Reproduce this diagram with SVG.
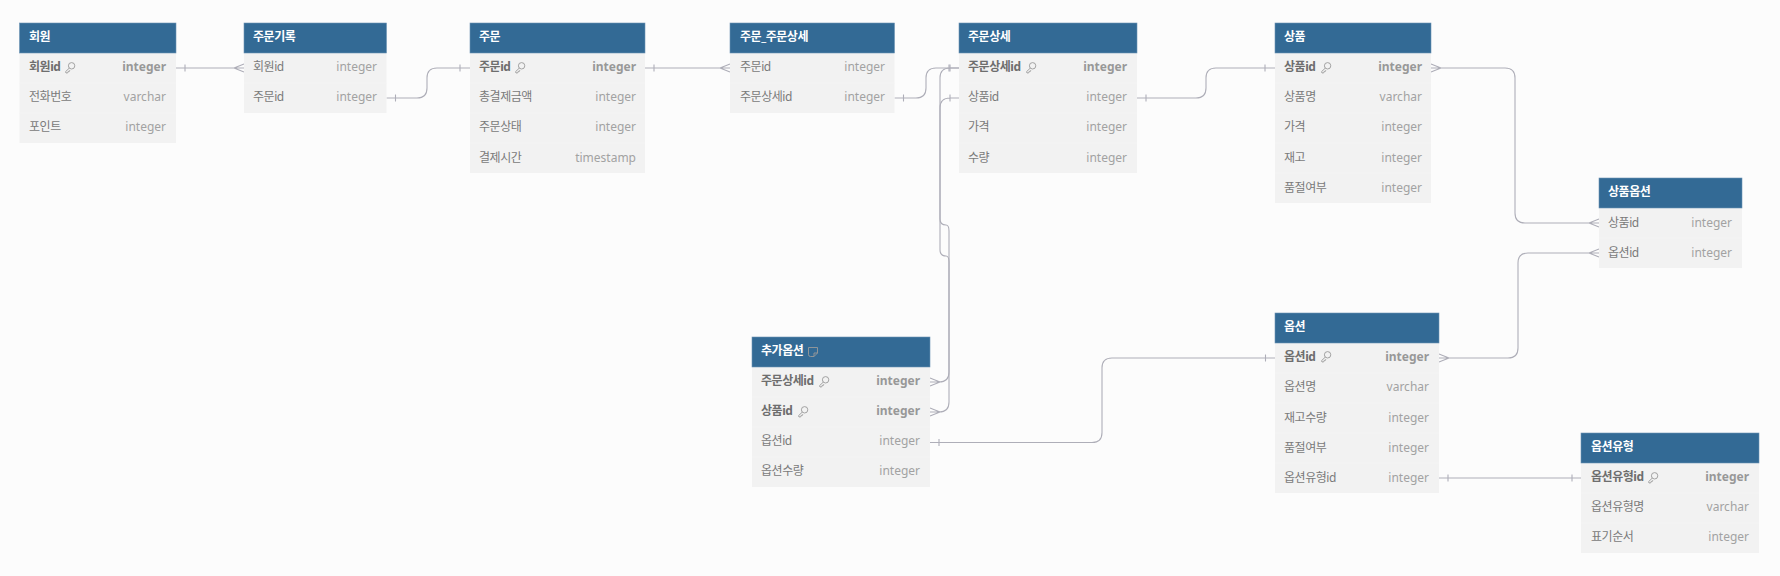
<svg xmlns="http://www.w3.org/2000/svg" xmlns:xlink="http://www.w3.org/1999/xlink" width="1780" height="576" viewBox="0 0 1780 576">
<style>
text{font-family:"Noto Sans","Noto Sans CJK KR",sans-serif;font-size:12px}
.bg{fill:#fcfcfc}
.h{fill:#336a95;stroke:#6d93b4;stroke-width:.6}
.b{fill:#f2f2f2}
.s{stroke:#f4f4f4;stroke-width:1}
.t{fill:#fff;font-weight:700;letter-spacing:-.45px}
.n{fill:#7a7a7a;letter-spacing:-.45px}
.ty{fill:#a2a2a2;text-anchor:end}
.p{font-weight:700}
.n.p{fill:#6e6e6e}
.ty.p{fill:#989898}
.c path,.c line{fill:none;stroke:#aeaeb8;stroke-width:1.1}
.i{fill:none;stroke:#9a9a9a;stroke-width:.9}
</style>
<defs>
<g id="key"><circle cx="6.600" cy="3.800" r="3.200" class="i"/><path class="i" d="M4.400 6L0.600 9.600L1 11L2.800 10.800L3.200 9.400L4.400 9.400L4.800 8.200"/></g>
</defs>
<rect class="bg" width="1780" height="576"/>
<g id="connectors" class="c">
<path d="M176 68H244M185 64.500V71.500M244 64L234 68L244 72"/>
<path d="M386.500 98H417Q427 98 427 88V78Q427 68 437 68H470M395.500 94.500V101.500M460 64.500V71.500"/>
<path d="M645 68H730M654 64.500V71.500M730 64L720 68L730 72"/>
<path d="M894.500 98H916Q926 98 926 88V78Q926 68 936 68H959M903.500 94.500V101.500M949 64.500V71.500"/>
<path d="M959 68H950Q940 68 940 78V250Q940 256 946 256Q949 256 949 262V372Q949 382 939 382H930M950 64.500V71.500M930 378L940 382L930 386"/>
<path d="M959 98H950Q940 98 940 108V219Q940 225 946 225Q949 225 949 231V402Q949 412 939 412H930M950 94.500V101.500M930 408L940 412L930 416"/>
<path d="M1137 98H1196Q1206 98 1206 88V78Q1206 68 1216 68H1275M1146 94.500V101.500M1265 64.500V71.500"/>
<path d="M1431 68H1505Q1515 68 1515 78V213Q1515 223 1525 223H1599M1431 64L1441 68L1431 72M1599 219L1589 223L1599 227"/>
<path d="M1439 358H1508Q1518 358 1518 348V263Q1518 253 1528 253H1599M1439 354L1449 358L1439 362M1599 249L1589 253L1599 257"/>
<path d="M930 442.500H1092Q1102 442.500 1102 432.500V368Q1102 358 1112 358H1275M939 439V446M1265.500 354.500V361.500"/>
<path d="M1439 478H1581M1448 474.500V481.500M1572 474.500V481.500"/>
</g>
<g id="t-member">
<rect class="b" x="19.500" y="53" width="156.500" height="90"/><rect class="h" x="19.500" y="23" width="156.500" height="30"/>
<path class="s" d="M19.500 83H176M19.500 113H176"/>
<text class="t" x="29" y="41">회원</text>
<text class="n p" x="29" y="71">회원id</text><use xlink:href="#key" href="#key" x="65" y="62"/><text class="ty p" x="166" y="71">integer</text>
<text class="n" x="29" y="101">전화번호</text><text class="ty" x="166" y="101">varchar</text>
<text class="n" x="29" y="131">포인트</text><text class="ty" x="166" y="131">integer</text>
</g>
<g id="t-orderlog">
<rect class="b" x="244" y="53" width="142.500" height="60"/><rect class="h" x="244" y="23" width="142.500" height="30"/>
<path class="s" d="M244 83H386.500"/>
<text class="t" x="253" y="41">주문기록</text>
<text class="n" x="253" y="71">회원id</text><text class="ty" x="377" y="71">integer</text>
<text class="n" x="253" y="101">주문id</text><text class="ty" x="377" y="101">integer</text>
</g>
<g id="t-order">
<rect class="b" x="470" y="53" width="175" height="120"/><rect class="h" x="470" y="23" width="175" height="30"/>
<path class="s" d="M470 83H645M470 113H645M470 143H645"/>
<text class="t" x="479" y="41">주문</text>
<text class="n p" x="479" y="71">주문id</text><use xlink:href="#key" href="#key" x="515" y="62"/><text class="ty p" x="636" y="71">integer</text>
<text class="n" x="479" y="101">총결제금액</text><text class="ty" x="636" y="101">integer</text>
<text class="n" x="479" y="131">주문상태</text><text class="ty" x="636" y="131">integer</text>
<text class="n" x="479" y="162">결제시간</text><text class="ty" x="636" y="162">timestamp</text>
</g>
<g id="t-orderdetail-link">
<rect class="b" x="730" y="53" width="164.500" height="60"/><rect class="h" x="730" y="23" width="164.500" height="30"/>
<path class="s" d="M730 83H894.500"/>
<text class="t" x="740" y="41">주문_주문상세</text>
<text class="n" x="740" y="71">주문id</text><text class="ty" x="885" y="71">integer</text>
<text class="n" x="740" y="101">주문상세id</text><text class="ty" x="885" y="101">integer</text>
</g>
<g id="t-orderdetail">
<rect class="b" x="959" y="53" width="178" height="120"/><rect class="h" x="959" y="23" width="178" height="30"/>
<path class="s" d="M959 83H1137M959 113H1137M959 143H1137"/>
<text class="t" x="968" y="41">주문상세</text>
<text class="n p" x="968" y="71">주문상세id</text><use xlink:href="#key" href="#key" x="1026" y="62"/><text class="ty p" x="1127" y="71">integer</text>
<text class="n" x="968" y="101">상품id</text><text class="ty" x="1127" y="101">integer</text>
<text class="n" x="968" y="131">가격</text><text class="ty" x="1127" y="131">integer</text>
<text class="n" x="968" y="162">수량</text><text class="ty" x="1127" y="162">integer</text>
</g>
<g id="t-product">
<rect class="b" x="1275" y="53" width="156" height="150"/><rect class="h" x="1275" y="23" width="156" height="30"/>
<path class="s" d="M1275 83H1431M1275 113H1431M1275 143H1431M1275 173H1431"/>
<text class="t" x="1284" y="41">상품</text>
<text class="n p" x="1284" y="71">상품id</text><use xlink:href="#key" href="#key" x="1321" y="62"/><text class="ty p" x="1422" y="71">integer</text>
<text class="n" x="1284" y="101">상품명</text><text class="ty" x="1422" y="101">varchar</text>
<text class="n" x="1284" y="131">가격</text><text class="ty" x="1422" y="131">integer</text>
<text class="n" x="1284" y="162">재고</text><text class="ty" x="1422" y="162">integer</text>
<text class="n" x="1284" y="192">품절여부</text><text class="ty" x="1422" y="192">integer</text>
</g>
<g id="t-productoption">
<rect class="b" x="1599" y="208" width="143" height="60"/><rect class="h" x="1599" y="178" width="143" height="30"/>
<path class="s" d="M1599 238H1742"/>
<text class="t" x="1608" y="196">상품옵션</text>
<text class="n" x="1608" y="227">상품id</text><text class="ty" x="1732" y="227">integer</text>
<text class="n" x="1608" y="257">옵션id</text><text class="ty" x="1732" y="257">integer</text>
</g>
<g id="t-extraoption">
<rect class="b" x="752" y="367" width="178" height="120"/><rect class="h" x="752" y="337" width="178" height="30"/>
<path class="s" d="M752 397H930M752 427H930M752 457H930"/>
<text class="t" x="761" y="355">추가옵션</text>
<path class="i" d="M808.500 347.500H817.500V353L814 356.500H810.500Q808.500 356.500 808.500 354.500ZM814 356.500V353H817.500"/>
<text class="n p" x="761" y="385">주문상세id</text><use xlink:href="#key" href="#key" x="819" y="376"/><text class="ty p" x="920" y="385">integer</text>
<text class="n p" x="761" y="415">상품id</text><use xlink:href="#key" href="#key" x="798" y="406"/><text class="ty p" x="920" y="415">integer</text>
<text class="n" x="761" y="445">옵션id</text><text class="ty" x="920" y="445">integer</text>
<text class="n" x="761" y="475">옵션수량</text><text class="ty" x="920" y="475">integer</text>
</g>
<g id="t-option">
<rect class="b" x="1275" y="343" width="164" height="150"/><rect class="h" x="1275" y="313" width="164" height="30"/>
<path class="s" d="M1275 373H1439M1275 403H1439M1275 433H1439M1275 463H1439"/>
<text class="t" x="1284" y="331">옵션</text>
<text class="n p" x="1284" y="361">옵션id</text><use xlink:href="#key" href="#key" x="1321" y="351"/><text class="ty p" x="1429" y="361">integer</text>
<text class="n" x="1284" y="391">옵션명</text><text class="ty" x="1429" y="391">varchar</text>
<text class="n" x="1284" y="422">재고수량</text><text class="ty" x="1429" y="422">integer</text>
<text class="n" x="1284" y="452">품절여부</text><text class="ty" x="1429" y="452">integer</text>
<text class="n" x="1284" y="482">옵션유형id</text><text class="ty" x="1429" y="482">integer</text>
</g>
<g id="t-optiontype">
<rect class="b" x="1581" y="463" width="178" height="90"/><rect class="h" x="1581" y="433" width="178" height="30"/>
<path class="s" d="M1581 493H1759M1581 523H1759"/>
<text class="t" x="1591" y="451">옵션유형</text>
<text class="n p" x="1591" y="481">옵션유형id</text><use xlink:href="#key" href="#key" x="1648" y="472"/><text class="ty p" x="1749" y="481">integer</text>
<text class="n" x="1591" y="511">옵션유형명</text><text class="ty" x="1749" y="511">varchar</text>
<text class="n" x="1591" y="541">표기순서</text><text class="ty" x="1749" y="541">integer</text>
</g>
</svg>
